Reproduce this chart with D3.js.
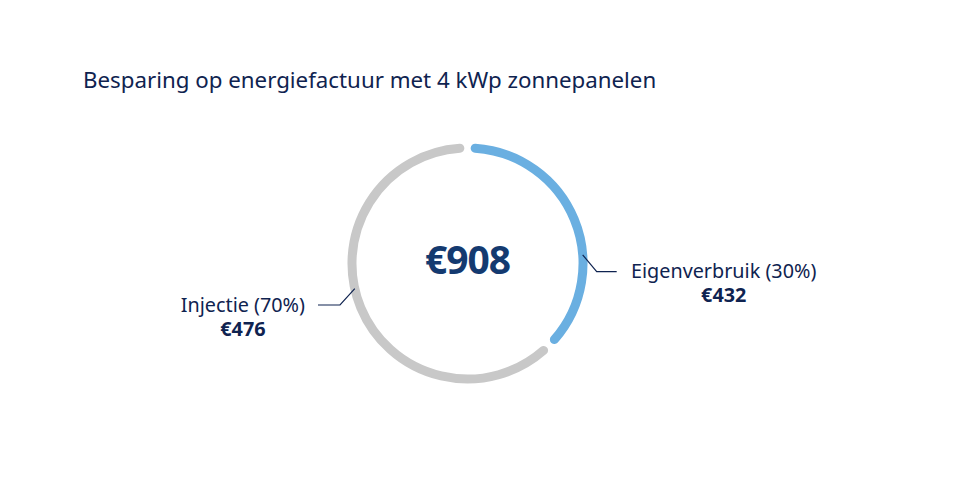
<!DOCTYPE html>
<html><head><meta charset="utf-8">
<script src="https://cdn.jsdelivr.net/npm/d3@7"></script>
<style>
html,body{margin:0;padding:0;background:#fff;}
svg{display:block;font-family:"Noto Sans",sans-serif;}
</style></head>
<body>
<svg id="chart" width="973" height="504"></svg>
<script>
// ---- data ----
const title = "Besparing op energiefactuur met 4 kWp zonnepanelen";
const categories = ["Eigenverbruik", "Injectie"];
const percentages = [30, 70];
const amounts = [432, 476];
const arcShares = [37.5, 62.5];   // visible share of the ring, as drawn
const total = 908;
const colors = ["#6aafe1", "#c8c8c8"];

// ---- layout ----
const W = 973, H = 504;
const cx = 467.5, cy = 263.5, R = 115.5, strokeW = 9;
const navy = "#0f2350";

const svg = d3.select("#chart");

svg.append("text")
  .attr("x", 83).attr("y", 87.5)
  .attr("fill", navy)
  .style("font-size", "22.3px")
  .text(title);

const data = categories.map((c, i) => ({cat: c, pct: percentages[i], amt: amounts[i], share: arcShares[i], color: colors[i]}));

const pie = d3.pie().value(d => d.share).sort(null);
const arcs = pie(data);

const g = svg.append("g").attr("transform", `translate(${cx},${cy})`);
const padDeg = 7.6 * Math.PI / 180;

g.selectAll("path.seg").data(arcs).join("path")
  .attr("class", "seg")
  .attr("fill", "none")
  .attr("stroke", d => d.data.color)
  .attr("stroke-width", strokeW)
  .attr("stroke-linecap", "round")
  .attr("d", d => {
    const p = d3.path();
    const a0 = d.startAngle + padDeg / 2 - Math.PI / 2;
    const a1 = d.endAngle - padDeg / 2 - Math.PI / 2;
    p.moveTo(R * Math.cos(a0), R * Math.sin(a0));
    p.arc(0, 0, R, a0, a1, false);
    return p.toString();
  });

// center total
g.append("text")
  .attr("x", 0).attr("y", 10)
  .attr("text-anchor", "middle")
  .attr("fill", "#143a70")
  .style("font-size", "39px")
  .style("font-weight", "700")
  .style("letter-spacing", "-1px")
  .text("€" + total);

// leaders and labels
const fmt = d => "€" + d;
const labelLayout = [
  {angle: 85.7, elbow: [596.7, 271.7], end: [616.7, 271.7], tx: 631, anchor: "start"},
  {angle: 257.4, elbow: [340, 305], end: [318, 305], tx: 305, anchor: "end"}
];

data.forEach((d, i) => {
  const L = labelLayout[i];
  const a = L.angle * Math.PI / 180;
  const sx = cx + R * Math.sin(a), sy = cy - R * Math.cos(a);
  svg.append("polyline")
    .attr("points", [[sx, sy], L.elbow, L.end].map(p => p.join(",")).join(" "))
    .attr("fill", "none")
    .attr("stroke", navy)
    .attr("stroke-width", 1.2);
  const t = svg.append("text")
    .attr("x", L.tx).attr("y", L.end[1] + 6.5)
    .attr("text-anchor", L.anchor)
    .attr("fill", navy)
    .style("font-size", "19.8px")
    .text(`${d.cat} (${d.pct}%)`);
  const bb = t.node().getBBox();
  svg.append("text")
    .attr("x", bb.x + bb.width / 2).attr("y", L.end[1] + 30.5)
    .attr("text-anchor", "middle")
    .attr("fill", navy)
    .style("font-size", "19.8px")
    .style("font-weight", "700")
    .text(fmt(d.amt));
});
</script>
</body></html>
